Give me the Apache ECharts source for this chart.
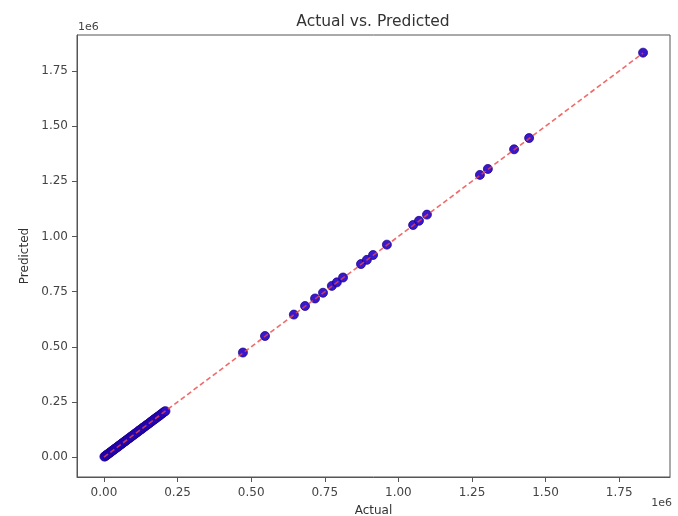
<!DOCTYPE html>
<html>
<head>
<meta charset="utf-8">
<script src="https://cdn.jsdelivr.net/npm/echarts@6/dist/echarts.min.js"></script>
<style>html,body{margin:0;padding:0;background:#fff}#c{width:678px;height:516px}</style>
</head>
<body>
<div id="c"></div>
<script>
// Data (raw units)
const actual = [
  1500, 4000, 7500, 9000, 12500, 15000, 18500, 21000, 24000, 27500, 30000, 33500, 36000, 40000,
  43000, 46500, 49000, 53000, 56000, 59500, 62000, 66000, 69000, 72500, 75000, 79000, 82000,
  86000, 89000, 92500, 96000, 99000, 103000, 106500, 110000, 113000, 117000, 120500, 124000,
  127000, 131000, 134500, 138000, 142000, 145000, 149000, 152500, 156000, 160000, 163000,
  167000, 171000, 174000, 178000, 182000, 186000, 189500, 193000, 197000, 201000, 205000, 209000,
  472000, 547000, 645000, 683000, 717000, 744000, 774000, 791000, 812000, 873000, 893000,
  914000, 961000, 1050000, 1070000, 1097000, 1277000, 1304000, 1393000, 1444000, 1831000
];
const predicted = [
  2500, 3500, 8000, 10000, 12000, 16000, 18000, 22000, 23500, 28000, 31000, 33000, 37000, 39500,
  44000, 46000, 50000, 52500, 57000, 59000, 63000, 65500, 70000, 72000, 76000, 78500, 83000,
  85500, 90000, 92000, 97000, 98500, 104000, 106000, 111000, 112500, 118000, 120000, 125000,
  126500, 132000, 134000, 139000, 141500, 146000, 148500, 153000, 155500, 161000, 162500,
  168000, 170500, 175000, 177500, 183000, 185500, 190000, 192500, 198000, 200500, 206000, 208500,
  474000, 549000, 646000, 685000, 719000, 745000, 776000, 792000, 814000, 875000, 894000,
  916000, 963000, 1052000, 1071000, 1099000, 1279000, 1306000, 1395000, 1446000, 1833000
];
const lineEnds = [0, 1831000];
const tickValues = [0, 250000, 500000, 750000, 1000000, 1250000, 1500000, 1750000];
const xMin = -91500, xMax = 1922500;
const yMin = -90000, yMax = 1913000;

const points = actual.map((a, i) => [a, predicted[i]]);
const fmt = v => (v / 1e6).toFixed(2);
const font = '"DejaVu Sans", sans-serif';

const chart = echarts.init(document.getElementById('c'), null, {renderer: 'canvas'});
const axisCommon = {
  type: 'value',
  splitLine: {show: false},
  axisLine: {show: true, onZero: false, lineStyle: {color: '#555', width: 1}},
  axisTick: {show: true, length: 5, lineStyle: {color: '#555'}, customValues: tickValues},
  axisLabel: {color: '#444', fontSize: 12, fontFamily: font, formatter: fmt, customValues: tickValues},
  nameTextStyle: {color: '#333', fontSize: 12, fontFamily: font}
};
chart.setOption({
  animation: false,
  backgroundColor: '#fff',
  title: {text: 'Actual vs. Predicted', left: 368, textAlign: 'center', top: 9,
    textStyle: {color: '#333', fontSize: 15.5, fontWeight: 'normal', fontFamily: font}},
  grid: {left: 77, right: 8, top: 35, bottom: 39, show: true, borderColor: '#555', borderWidth: 1,
    backgroundColor: 'transparent', containLabel: false, outerBoundsMode: 'none'},
  xAxis: Object.assign({}, axisCommon, {
    min: xMin, max: xMax,
    name: 'Actual', nameLocation: 'middle', nameGap: 28,
    axisLabel: Object.assign({}, axisCommon.axisLabel, {margin: 10})
  }),
  yAxis: Object.assign({}, axisCommon, {
    min: yMin, max: yMax,
    name: 'Predicted', nameLocation: 'middle', nameGap: 46,
    axisLabel: Object.assign({}, axisCommon.axisLabel, {margin: 9})
  }),
  graphic: [
    {type: 'text', left: 78, top: 22, style: {text: '1e6', fill: '#444', font: '11px "DejaVu Sans", sans-serif'}},
    {type: 'text', right: 6, top: 498, style: {text: '1e6', fill: '#444', font: '11px "DejaVu Sans", sans-serif'}}
  ],
  series: [
    {
      type: 'scatter', data: points, symbolSize: 9, z: 2,
      itemStyle: {color: '#2e0cc8', borderColor: '#1a0090', borderWidth: 0.8, opacity: 0.95}
    },
    {
      type: 'line', data: [[lineEnds[0], lineEnds[0]], [lineEnds[1], lineEnds[1]]],
      showSymbol: false, symbol: 'none', z: 3,
      lineStyle: {color: '#ee4444', width: 1.6, type: [5, 3], opacity: 0.8}
    }
  ]
});
</script>
</body>
</html>
